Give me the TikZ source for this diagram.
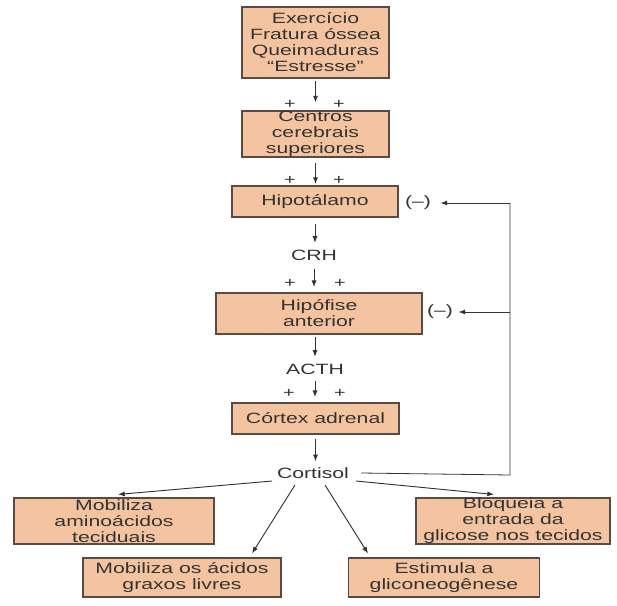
\documentclass[tikz,border=0pt]{standalone}
\usepackage{fontspec}
\setmainfont{Liberation Sans}[FakeStretch=1.42]
\usetikzlibrary{arrows.meta}
\definecolor{boxfill}{HTML}{F4C4A0}
\definecolor{boxline}{HTML}{5A4A44}
\definecolor{ink}{HTML}{333333}
\begin{document}
\begin{tikzpicture}[x=0.75pt,y=-0.75pt,
  font=\fontsize{11.2pt}{12pt}\selectfont, text=ink,
  box/.style={draw=boxline, line width=0.8pt, fill=boxfill, align=center, inner sep=0pt},
  sz/.style 2 args={minimum width=#1*0.75pt, minimum height=#2*0.75pt},
  lbl/.style={inner sep=0pt},
  plus/.style={inner sep=0pt, font=\fontsize{10.5pt}{10.5pt}\selectfont},
  arr/.style={draw=ink, line width=0.7pt, -{Latex[length=5pt,width=3.8pt]}},
  fb/.style={draw=ink, line width=0.6pt}
]
\useasboundingbox (0,0) rectangle (617,606);

% main chain
\node[box, sz={147}{71}] (top) at (315.5,42.5) {Exercício\\Fratura óssea\\Queimaduras\\“Estresse”};
\node[box, sz={147}{46}] (centros) at (315.5,134) {Centros\\cerebrais\\superiores};
\node[box, sz={166}{31}] (hipo) at (315,201.5) {Hipotálamo};
\node[lbl] (crh) at (314,255) {CRH};
\node[box, sz={206}{41}] (hipof) at (319,313.5) {Hipófise\\anterior};
\node[lbl] (acth) at (315,369) {ACTH};
\node[box, sz={167}{31}] (cortex) at (315.5,418.5) {Córtex adrenal};
\node[lbl] (cortisol) at (313,473) {Cortisol};

% effect boxes
\node[box, sz={200}{46}] (amino) at (114,521) {Mobiliza\\aminoácidos\\teciduais};
\node[box, sz={198}{39}] (graxos) at (182,577.5) {Mobiliza os ácidos\\graxos livres};
\node[box, sz={191}{39}] (estim) at (444,577.5) {Estimula a\\gliconeogênese};
\node[box, sz={194}{46}] (bloq) at (513,521) {Bloqueia a\\entrada da\\glicose nos tecidos};

% plus signs
\node[plus] (pa1) at (290,104) {+};
\node[plus] (pa2) at (339,104) {+};
\node[plus] (pb1) at (290,180) {+};
\node[plus] (pb2) at (339,180) {+};
\node[plus] (pc1) at (290,283) {+};
\node[plus] (pc2) at (340,283) {+};
\node[plus] (pd1) at (289,393) {+};
\node[plus] (pd2) at (340,393) {+};

% negative feedback labels
\node[lbl] (m1) at (418,203) {(–)};
\node[lbl] (m2) at (440,312) {(–)};

% vertical arrows
\draw[arr, shorten <=2pt, shorten >=6pt] (top.south) -- (top.south |- centros.north);
\draw[arr, shorten <=4pt, shorten >=1pt] (centros.south) -- (centros.south |- hipo.north);
\draw[arr, shorten <=4.5pt, shorten >=5pt] (hipo.south) -- (hipo.south |- crh.north);
\draw[arr, shorten <=6pt, shorten >=4pt] (crh.south) -- (crh.south |- hipof.north);
\draw[arr, shorten <=2pt, shorten >=5pt] (acth.north |- hipof.south) -- (acth.north);
\draw[arr, shorten <=4.5pt, shorten >=4pt] (acth.south) -- (acth.south |- cortex.north);
\draw[arr, shorten <=3pt, shorten >=4.5pt] (cortex.south) -- (cortex.south |- cortisol.north);

% cortisol effects
\draw[arr] ([shift={(-41,8)}]cortisol.center) -- ([shift={(4,-3)}]amino.north);
\draw[arr] ([shift={(-18,12)}]cortisol.center) -- ([shift={(70,-4)}]graxos.north);
\draw[arr] ([shift={(12,12)}]cortisol.center) -- ([shift={(-76,-4)}]estim.north);
\draw[arr] ([shift={(43,8)}]cortisol.center) -- ([shift={(-19,-3)}]bloq.north);

% feedback loop
\coordinate (fbb) at (510,475);
\coordinate (fbt) at (510,203);
\draw[fb] ([xshift=9]cortisol.east) -- (fbb) -- (fbt);
\draw[arr, line width=0.6pt, shorten >=7pt] (fbt) -- (m1.east);
\draw[arr, line width=0.6pt, shorten >=4pt] (fbb |- m2.east) -- (m2.east);
\end{tikzpicture}
\end{document}
